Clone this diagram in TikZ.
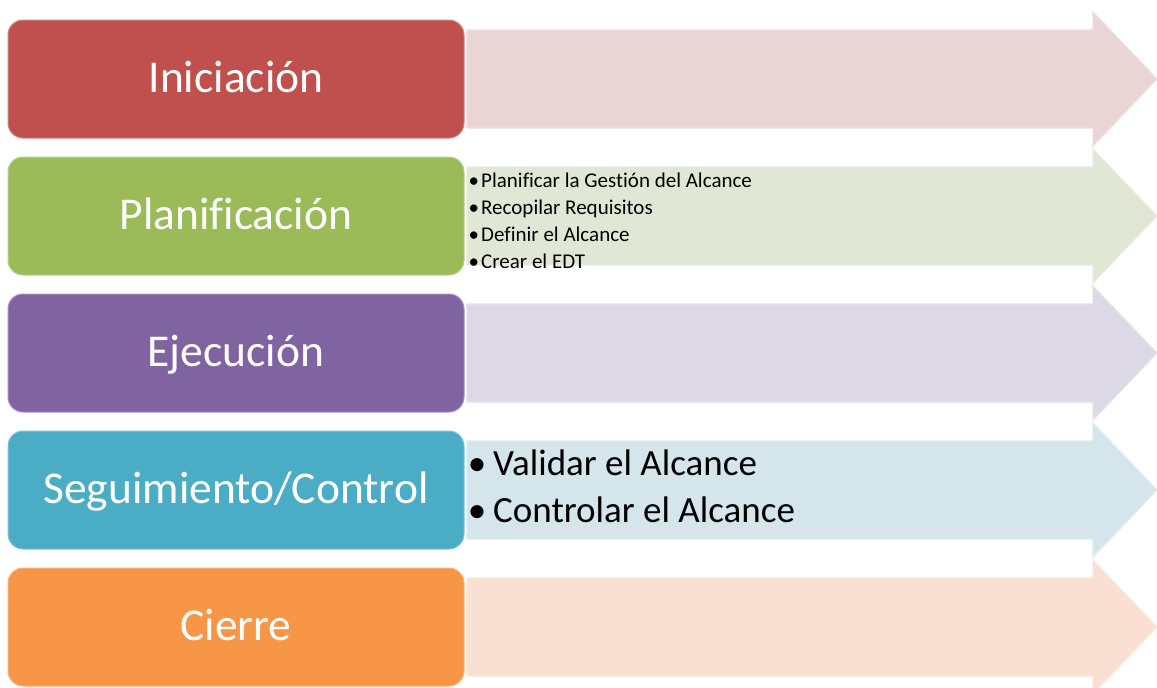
\documentclass[tikz,border=0pt]{standalone}
\usepackage{fontspec}
\setmainfont[Ligatures=NoCommon]{Carlito}
\definecolor{cRed}{HTML}{C0504D}
\definecolor{cGreen}{HTML}{9BBB59}
\definecolor{cPurple}{HTML}{8064A2}
\definecolor{cBlue}{HTML}{4BACC6}
\definecolor{cOrange}{HTML}{F79646}
\definecolor{aRed}{HTML}{EAD5D5}
\definecolor{aGreen}{HTML}{E0E8D5}
\definecolor{aPurple}{HTML}{DDD8E5}
\definecolor{aBlue}{HTML}{D4E5EC}
\definecolor{aOrange}{HTML}{FADFD3}
\tikzset{
  phasebox/.style={rounded corners=15pt, line width=1pt},
  phaselabel/.style={text=white, inner sep=0pt, anchor=base, font=\fontsize{45.5}{54}\selectfont},
  bandarrow/.style={line width=1.2pt, line join=miter},
  smallitem/.style={inner sep=0pt, anchor=base west, font=\fontsize{21}{27}\selectfont},
  bigitem/.style={inner sep=0pt, anchor=base west, font=\fontsize{37}{47}\selectfont},
}
\newcommand\phaserow[5]{%
  % #1 center y, #2 box colour, #3 arrow colour, #4 name, #5 label
  \fill[#3, draw=#3!75!white, bandarrow]
    (467,#1-49) -- (1093,#1-49) -- (1093,#1-67) -- (1157,#1)
    -- (1093,#1+67) -- (1093,#1+49) -- (467,#1+49) -- cycle;
  \filldraw[phasebox, fill=#2, draw=#2!70!white] (8,#1-59) rectangle (464,#1+59);
  \node[phaselabel] (#4) at (236,#1+13) {#5};
}
\begin{document}
\begin{tikzpicture}[x=1pt,y=-1pt]
\useasboundingbox[fill=white] (0,0) rectangle (1157,688);
\phaserow{79}{cRed}{aRed}{ini}{Iniciación}
\phaserow{216}{cGreen}{aGreen}{pla}{Planificación}
\phaserow{353}{cPurple}{aPurple}{eje}{Ejecución}
\phaserow{490}{cBlue}{aBlue}{seg}{Seguimiento/Control}
\phaserow{627}{cOrange}{aOrange}{cie}{Cierre}
% Planificación items
\node[smallitem] (p1) at (481,187) {\llap{•\hspace{2pt}}Planificar la Gestión del Alcance};
\node[smallitem] (p2) at (481,214) {\llap{•\hspace{2pt}}Recopilar Requisitos};
\node[smallitem] (p3) at (481,241) {\llap{•\hspace{2pt}}Definir el Alcance};
\node[smallitem] (p4) at (481,268) {\llap{•\hspace{2pt}}Crear el EDT};
% Seguimiento items
\node[bigitem] (s1) at (493,475) {\llap{•\hspace{7pt}}Validar el Alcance};
\node[bigitem] (s2) at (493,522) {\llap{•\hspace{7pt}}Controlar el Alcance};
\end{tikzpicture}
\end{document}
